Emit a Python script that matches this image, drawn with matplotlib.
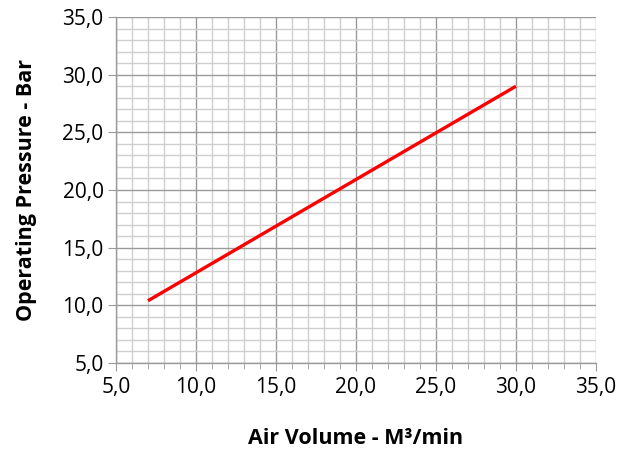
import matplotlib.pyplot as plt
from matplotlib.ticker import MultipleLocator, FuncFormatter

# Air volume (M3/min) vs operating pressure (bar)
air_volume = [7.0, 30.0]
pressure = [10.4, 29.0]

plt.rcParams['font.family'] = ['Open Sans', 'DejaVu Sans']

fig = plt.figure(figsize=(6.21, 4.5), dpi=100)
ax = fig.add_axes([0.1868, 0.1933, 0.7729, 0.7689])

ax.plot(air_volume, pressure, color='#ff0000', linewidth=2.4, solid_capstyle='butt')

ax.set_xlim(5, 35)
ax.set_ylim(5, 35)
ax.xaxis.set_major_locator(MultipleLocator(5))
ax.yaxis.set_major_locator(MultipleLocator(5))
ax.xaxis.set_minor_locator(MultipleLocator(1))
ax.yaxis.set_minor_locator(MultipleLocator(1))

fmt = FuncFormatter(lambda v, p: f'{v:.1f}'.replace('.', ','))
ax.xaxis.set_major_formatter(fmt)
ax.yaxis.set_major_formatter(fmt)

ax.grid(which='major', color='#9a9a9a', linewidth=1.0)
ax.grid(which='minor', color='#cfcfcf', linewidth=1.0)
ax.set_axisbelow(True)

for s in ['top', 'right']:
    ax.spines[s].set_visible(False)
for s in ['left', 'bottom']:
    ax.spines[s].set_color('#9a9a9a')
    ax.spines[s].set_linewidth(1.0)

ax.tick_params(which='major', direction='out', length=6, color='#9a9a9a', labelsize=15, pad=3)
ax.tick_params(axis='x', which='minor', direction='out', length=4, color='#9a9a9a')
ax.tick_params(axis='y', which='minor', length=0)
ax.tick_params(axis='x', which='major', pad=4)

ax.set_xlabel('Air Volume - M³/min', fontsize=15.5, fontweight='bold', labelpad=22)
ax.set_ylabel('Operating Pressure - Bar', fontsize=15.5, fontweight='bold', labelpad=18)

fig.savefig('out.png', dpi=100)
